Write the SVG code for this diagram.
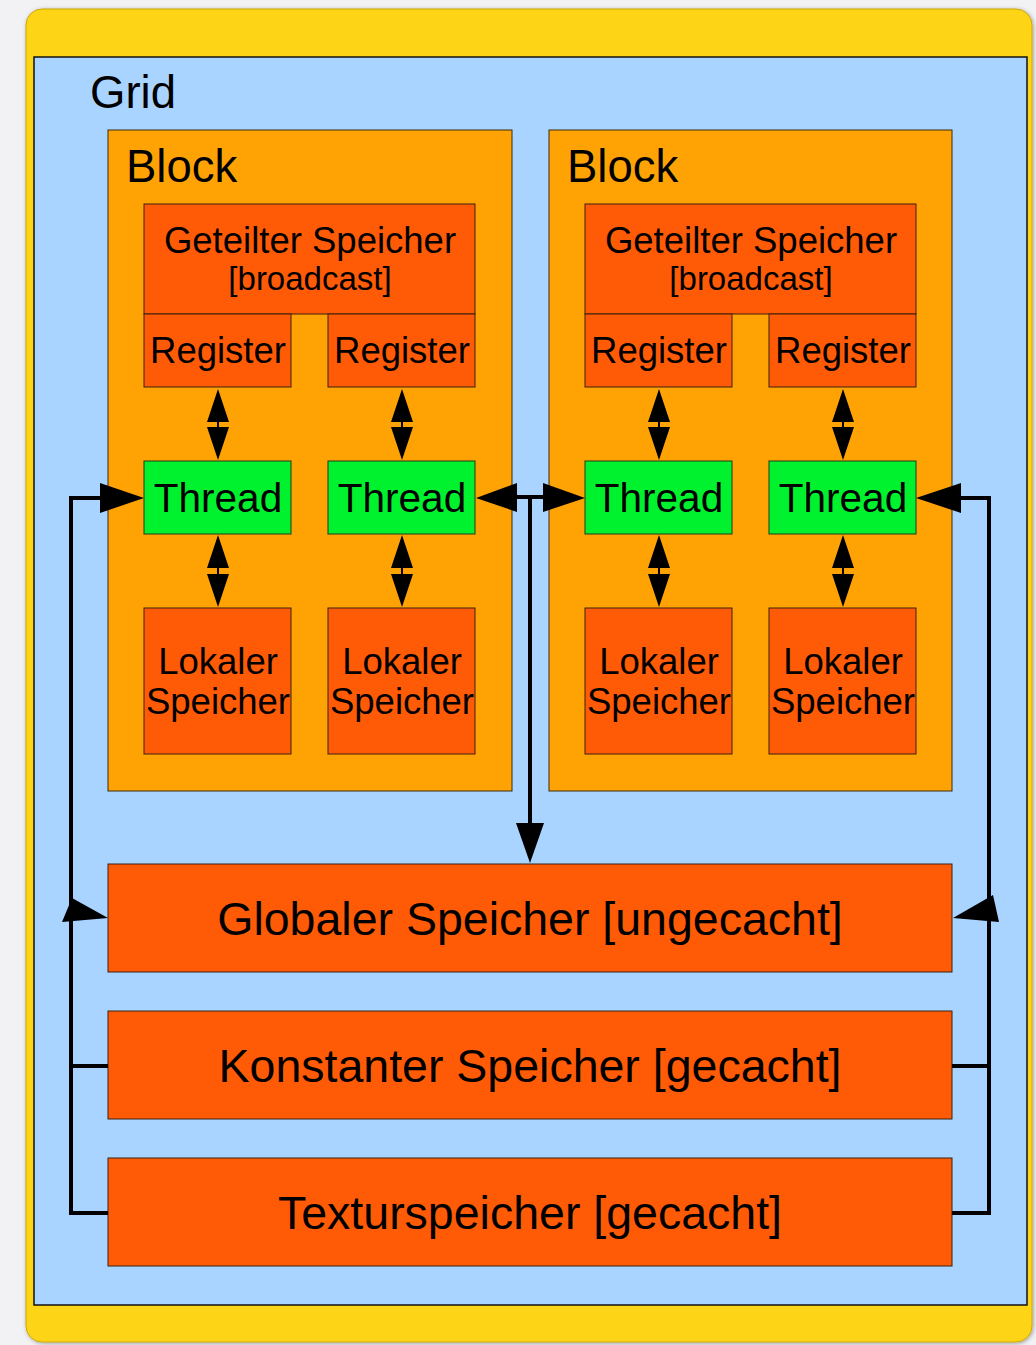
<svg xmlns="http://www.w3.org/2000/svg" width="1036" height="1345" viewBox="0 0 1036 1345">
  <defs>
    <style>
      .lbl { font-family: "Liberation Sans", Arial, sans-serif; fill: #000; text-anchor: middle; }
      .title { font-family: "Liberation Sans", Arial, sans-serif; fill: #000; font-size: 45.5px; }
      .mem { fill: #FF5A05; stroke: #3a2010; stroke-width: 1; }
      .thr { fill: #00F22E; stroke: #1e3a18; stroke-width: 1; }
      .blk { fill: #FFA305; stroke: #3a2a10; stroke-width: 1; }
      .wire { fill: none; stroke: #000; stroke-width: 4; }
      .thin { fill: none; stroke: #000; stroke-width: 2; }
      .head { fill: #000; }
    </style>
    <filter id="soft" x="-5%" y="-5%" width="110%" height="110%">
      <feGaussianBlur in="SourceAlpha" stdDeviation="2"/>
      <feOffset dx="1" dy="1"/>
      <feComponentTransfer><feFuncA type="linear" slope="0.35"/></feComponentTransfer>
      <feMerge><feMergeNode/><feMergeNode in="SourceGraphic"/></feMerge>
    </filter>
  </defs>

  <!-- page background -->
  <rect x="0" y="0" width="1036" height="1345" fill="#f2f2f4"/>

  <!-- grid frame -->
  <g id="grid">
    <rect x="26" y="9" width="1006" height="1333" rx="16" fill="#FDD415" stroke="#c9a80c" stroke-width="1" filter="url(#soft)"/>
    <rect x="34" y="57" width="993" height="1248" fill="#A9D4FF" stroke="#111" stroke-width="1.5"/>
    <text class="title" x="90" y="108">Grid</text>
  </g>

  <!-- block 1 -->
  <g id="block1">
    <rect class="blk" x="108" y="130" width="404" height="661"/>
    <text class="title" x="126" y="182">Block</text>
  </g>
  <g id="shared1">
    <rect class="mem" x="144" y="204" width="331" height="110"/>
    <text class="lbl" x="310" y="253" font-size="36.5">Geteilter Speicher</text>
    <text class="lbl" x="310" y="290" font-size="33">[broadcast]</text>
  </g>
  <g id="reg1a">
    <rect class="mem" x="144" y="314" width="147" height="73"/>
    <text class="lbl" x="218" y="363" font-size="36.5">Register</text>
  </g>
  <g id="reg1b">
    <rect class="mem" x="328" y="314" width="147" height="73"/>
    <text class="lbl" x="402" y="363" font-size="36.5">Register</text>
  </g>
  <g id="thread1a">
    <rect class="thr" x="144" y="461" width="147" height="73"/>
    <text class="lbl" x="218" y="512" font-size="40.5">Thread</text>
  </g>
  <g id="thread1b">
    <rect class="thr" x="328" y="461" width="147" height="73"/>
    <text class="lbl" x="402" y="512" font-size="40.5">Thread</text>
  </g>
  <g id="local1a">
    <rect class="mem" x="144" y="608" width="147" height="146"/>
    <text class="lbl" x="218" y="674" font-size="36.5">Lokaler</text>
    <text class="lbl" x="218" y="714" font-size="36.5">Speicher</text>
  </g>
  <g id="local1b">
    <rect class="mem" x="328" y="608" width="147" height="146"/>
    <text class="lbl" x="402" y="674" font-size="36.5">Lokaler</text>
    <text class="lbl" x="402" y="714" font-size="36.5">Speicher</text>
  </g>

  <!-- block 2 -->
  <g id="block2">
    <rect class="blk" x="549" y="130" width="403" height="661"/>
    <text class="title" x="567" y="182">Block</text>
  </g>
  <g id="shared2">
    <rect class="mem" x="585" y="204" width="331" height="110"/>
    <text class="lbl" x="751" y="253" font-size="36.5">Geteilter Speicher</text>
    <text class="lbl" x="751" y="290" font-size="33">[broadcast]</text>
  </g>
  <g id="reg2a">
    <rect class="mem" x="585" y="314" width="147" height="73"/>
    <text class="lbl" x="659" y="363" font-size="36.5">Register</text>
  </g>
  <g id="reg2b">
    <rect class="mem" x="769" y="314" width="147" height="73"/>
    <text class="lbl" x="843" y="363" font-size="36.5">Register</text>
  </g>
  <g id="thread2a">
    <rect class="thr" x="585" y="461" width="147" height="73"/>
    <text class="lbl" x="659" y="512" font-size="40.5">Thread</text>
  </g>
  <g id="thread2b">
    <rect class="thr" x="769" y="461" width="147" height="73"/>
    <text class="lbl" x="843" y="512" font-size="40.5">Thread</text>
  </g>
  <g id="local2a">
    <rect class="mem" x="585" y="608" width="147" height="146"/>
    <text class="lbl" x="659" y="674" font-size="36.5">Lokaler</text>
    <text class="lbl" x="659" y="714" font-size="36.5">Speicher</text>
  </g>
  <g id="local2b">
    <rect class="mem" x="769" y="608" width="147" height="146"/>
    <text class="lbl" x="843" y="674" font-size="36.5">Lokaler</text>
    <text class="lbl" x="843" y="714" font-size="36.5">Speicher</text>
  </g>

  <!-- device-wide memories -->
  <g id="global">
    <rect class="mem" x="108" y="864" width="844" height="108"/>
    <text class="lbl" x="530" y="935" font-size="46.5">Globaler Speicher [ungecacht]</text>
  </g>
  <g id="constant">
    <rect class="mem" x="108" y="1011" width="844" height="108"/>
    <text class="lbl" x="530" y="1082" font-size="46.5">Konstanter Speicher [gecacht]</text>
  </g>
  <g id="texture">
    <rect class="mem" x="108" y="1158" width="844" height="108"/>
    <text class="lbl" x="530" y="1229" font-size="46.5">Texturspeicher [gecacht]</text>
  </g>

  <!-- connectors -->
  <g id="connectors">
    <!-- register <-> thread <-> local, one pair per thread column -->
    <g id="vpairs">
      <g transform="translate(218,0)">
        <line class="thin" x1="0" y1="420" x2="0" y2="428"/>
        <polygon class="head" points="0,389 -11,422 11,422"/>
        <polygon class="head" points="0,460 -11,427 11,427"/>
        <line class="thin" x1="0" y1="566" x2="0" y2="576"/>
        <polygon class="head" points="0,535 -11,568 11,568"/>
        <polygon class="head" points="0,607 -11,574 11,574"/>
      </g>
      <g transform="translate(402,0)">
        <line class="thin" x1="0" y1="420" x2="0" y2="428"/>
        <polygon class="head" points="0,389 -11,422 11,422"/>
        <polygon class="head" points="0,460 -11,427 11,427"/>
        <line class="thin" x1="0" y1="566" x2="0" y2="576"/>
        <polygon class="head" points="0,535 -11,568 11,568"/>
        <polygon class="head" points="0,607 -11,574 11,574"/>
      </g>
      <g transform="translate(659,0)">
        <line class="thin" x1="0" y1="420" x2="0" y2="428"/>
        <polygon class="head" points="0,389 -11,422 11,422"/>
        <polygon class="head" points="0,460 -11,427 11,427"/>
        <line class="thin" x1="0" y1="566" x2="0" y2="576"/>
        <polygon class="head" points="0,535 -11,568 11,568"/>
        <polygon class="head" points="0,607 -11,574 11,574"/>
      </g>
      <g transform="translate(843,0)">
        <line class="thin" x1="0" y1="420" x2="0" y2="428"/>
        <polygon class="head" points="0,389 -11,422 11,422"/>
        <polygon class="head" points="0,460 -11,427 11,427"/>
        <line class="thin" x1="0" y1="566" x2="0" y2="576"/>
        <polygon class="head" points="0,535 -11,568 11,568"/>
        <polygon class="head" points="0,607 -11,574 11,574"/>
      </g>
    </g>

    <!-- left bus -->
    <polyline class="wire" points="102,498 71,498 71,1213 108,1213"/>
    <line class="wire" x1="71" y1="1066" x2="108" y2="1066" stroke-width="3.5"/>
    <polygon class="head" points="144,498 100,483 100,513"/>
    <polygon class="head" points="108,918 72,898 62,922"/>

    <!-- right bus -->
    <polyline class="wire" points="958,498 989,498 989,1213 952,1213"/>
    <line class="wire" x1="952" y1="1066" x2="989" y2="1066" stroke-width="3.5"/>
    <polygon class="head" points="916,498 961,483 961,513"/>
    <polygon class="head" points="953,918 993,895 999,922"/>

    <!-- centre: threads of both blocks to global memory -->
    <line class="wire" x1="515" y1="497" x2="545" y2="497"/>
    <line class="wire" x1="530" y1="497" x2="530" y2="826"/>
    <polygon class="head" points="476,498 517,483 517,512"/>
    <polygon class="head" points="585,498 543,483 543,512"/>
    <polygon class="head" points="530,863 516,823 544,823"/>
  </g>
</svg>
